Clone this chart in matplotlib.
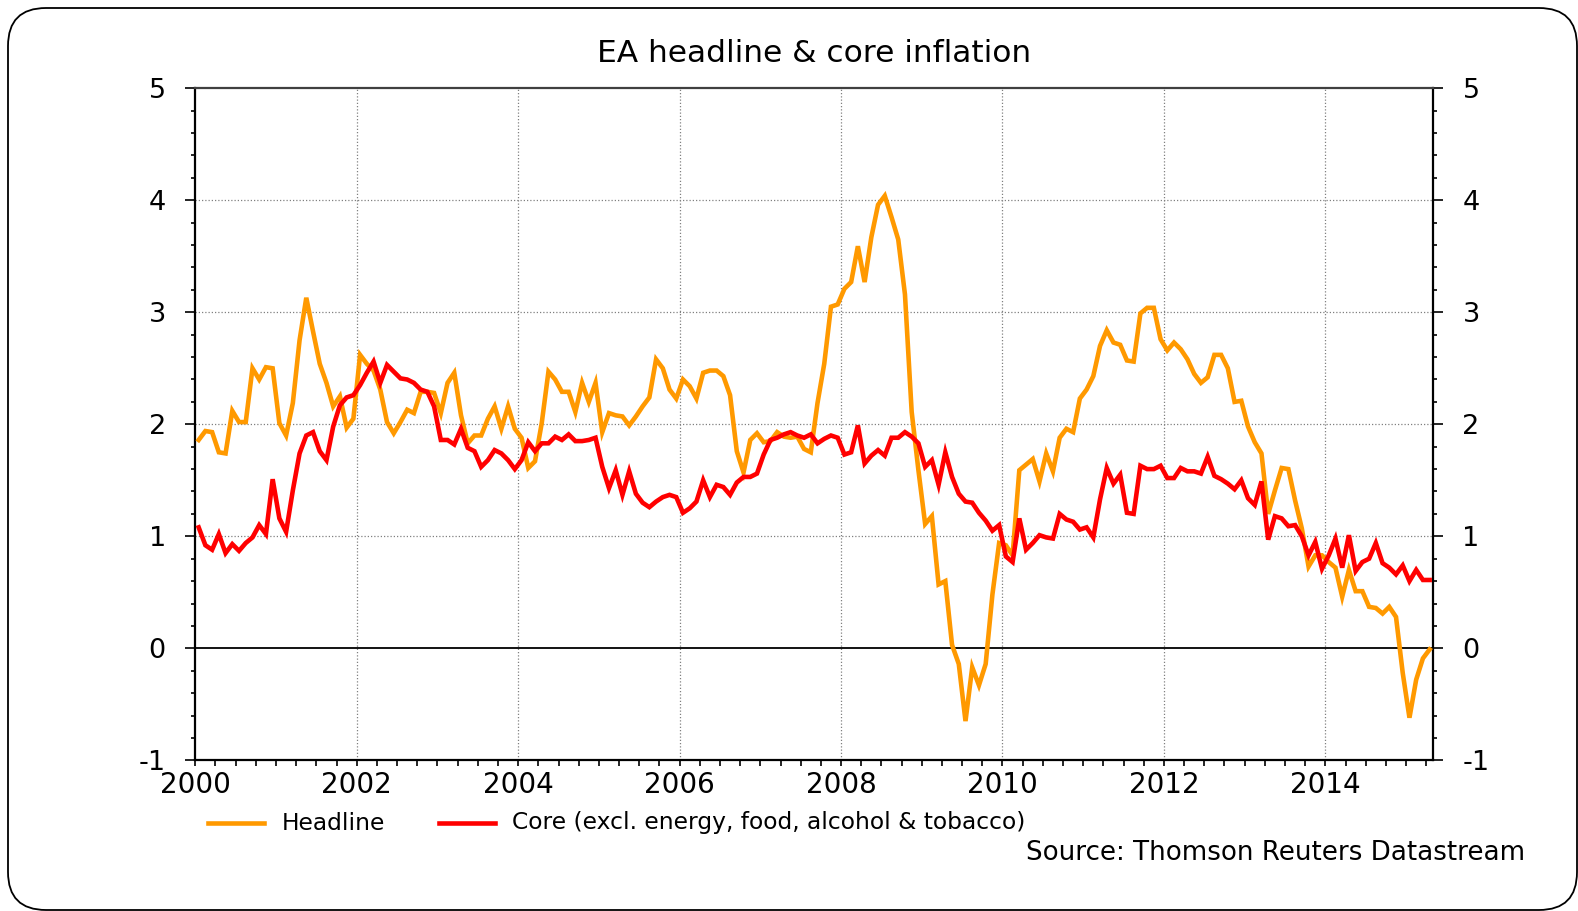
import numpy as np
import matplotlib
matplotlib.use("Agg")
import matplotlib.pyplot as plt
from matplotlib.patches import FancyBboxPatch
from matplotlib.lines import Line2D
from matplotlib.ticker import FixedLocator, MultipleLocator
from matplotlib.transforms import IdentityTransform

# ---------------- data ----------------
start_year = 2000
title = "EA headline & core inflation"
series_labels = ["Headline", "Core (excl. energy, food, alcohol & tobacco)"]
source_text = "Source: Thomson Reuters Datastream"
x_tick_years = [2000, 2002, 2004, 2006, 2008, 2010, 2012, 2014]
y_ticks = [-1, 0, 1, 2, 3, 4, 5]

headline = [
    1.86, 1.94, 1.93, 1.75, 1.74, 2.12, 2.02, 2.02, 2.50, 2.40, 2.51, 2.50,   # 2000
    2.01, 1.90, 2.19, 2.75, 3.13, 2.83, 2.54, 2.37, 2.16, 2.25, 1.97, 2.05,   # 2001
    2.62, 2.54, 2.48, 2.31, 2.02, 1.92, 2.02, 2.13, 2.10, 2.29, 2.29, 2.28,   # 2002
    2.10, 2.37, 2.46, 2.08, 1.83, 1.90, 1.90, 2.05, 2.16, 1.96, 2.16, 1.96,   # 2003
    1.88, 1.61, 1.67, 2.01, 2.47, 2.40, 2.29, 2.29, 2.11, 2.37, 2.20, 2.37,   # 2004
    1.93, 2.10, 2.08, 2.07, 1.99, 2.07, 2.16, 2.24, 2.58, 2.50, 2.31, 2.23,   # 2005
    2.40, 2.34, 2.23, 2.46, 2.48, 2.48, 2.43, 2.26, 1.76, 1.57, 1.86, 1.92,   # 2006
    1.84, 1.85, 1.93, 1.89, 1.88, 1.89, 1.78, 1.75, 2.19, 2.54, 3.05, 3.07,   # 2007
    3.21, 3.27, 3.59, 3.27, 3.67, 3.96, 4.04, 3.85, 3.65, 3.16, 2.11, 1.59,   # 2008
    1.11, 1.18, 0.57, 0.60, 0.03, -0.14, -0.65, -0.17, -0.33, -0.14, 0.48, 0.94,  # 2009
    0.92, 0.83, 1.59, 1.64, 1.69, 1.49, 1.74, 1.58, 1.88, 1.96, 1.93, 2.23,   # 2010
    2.31, 2.43, 2.70, 2.84, 2.73, 2.71, 2.57, 2.56, 2.99, 3.04, 3.04, 2.76,   # 2011
    2.66, 2.73, 2.67, 2.58, 2.45, 2.37, 2.42, 2.62, 2.62, 2.50, 2.20, 2.21,   # 2012
    1.98, 1.84, 1.74, 1.20, 1.41, 1.61, 1.60, 1.32, 1.07, 0.73, 0.83, 0.83,   # 2013
    0.77, 0.72, 0.46, 0.70, 0.51, 0.51, 0.37, 0.36, 0.31, 0.37, 0.28, -0.22,  # 2014
    -0.62, -0.28, -0.09, -0.01,                                               # 2015
]

core = [
    1.08, 0.92, 0.88, 1.02, 0.85, 0.93, 0.87, 0.94, 0.99, 1.10, 1.02, 1.51,   # 2000
    1.16, 1.04, 1.41, 1.74, 1.90, 1.93, 1.76, 1.68, 1.98, 2.17, 2.24, 2.26,   # 2001
    2.35, 2.46, 2.56, 2.37, 2.53, 2.47, 2.41, 2.40, 2.37, 2.31, 2.29, 2.16,   # 2002
    1.86, 1.86, 1.82, 1.96, 1.79, 1.76, 1.62, 1.68, 1.77, 1.74, 1.68, 1.60,   # 2003
    1.68, 1.84, 1.76, 1.83, 1.83, 1.89, 1.86, 1.91, 1.85, 1.85, 1.86, 1.88,   # 2004
    1.62, 1.43, 1.59, 1.37, 1.58, 1.38, 1.30, 1.26, 1.31, 1.35, 1.37, 1.35,   # 2005
    1.21, 1.25, 1.31, 1.50, 1.35, 1.46, 1.44, 1.37, 1.48, 1.53, 1.53, 1.56,   # 2006
    1.73, 1.86, 1.88, 1.91, 1.93, 1.90, 1.88, 1.91, 1.83, 1.87, 1.90, 1.88,   # 2007
    1.73, 1.75, 1.99, 1.65, 1.72, 1.77, 1.72, 1.88, 1.88, 1.93, 1.89, 1.83,   # 2008
    1.62, 1.68, 1.46, 1.75, 1.53, 1.38, 1.31, 1.30, 1.21, 1.14, 1.05, 1.10,   # 2009
    0.82, 0.77, 1.16, 0.88, 0.94, 1.01, 0.99, 0.98, 1.20, 1.15, 1.13, 1.06,   # 2010
    1.08, 0.99, 1.33, 1.61, 1.47, 1.55, 1.21, 1.20, 1.63, 1.60, 1.60, 1.63,   # 2011
    1.52, 1.52, 1.61, 1.58, 1.58, 1.56, 1.71, 1.54, 1.51, 1.47, 1.42, 1.50,   # 2012
    1.34, 1.28, 1.49, 0.97, 1.18, 1.16, 1.09, 1.10, 1.00, 0.83, 0.95, 0.71,   # 2013
    0.83, 0.98, 0.72, 1.01, 0.69, 0.77, 0.80, 0.94, 0.76, 0.72, 0.66, 0.74,   # 2014
    0.60, 0.70, 0.61, 0.61,                                                   # 2015
]

# ---------------- figure ----------------
W, H = 1578, 911
DPI = 100
plt.rcParams["font.family"] = ["DejaVu Sans"]
fig = plt.figure(figsize=(W / DPI, H / DPI), dpi=DPI)
fig.patch.set_facecolor("white")

# rounded outer frame (pixel coordinates)
frame = FancyBboxPatch((8, 1), 1569, 902,
                       boxstyle="round,pad=0,rounding_size=38",
                       transform=IdentityTransform(),
                       facecolor="none", edgecolor="black", linewidth=1.3)
fig.patches.append(frame)

ax_l, ax_r, ax_t, ax_b = 195.3, 1433.0, 88.3, 760.3
ax = fig.add_axes([ax_l / W, 1 - ax_b / H, (ax_r - ax_l) / W, (ax_b - ax_t) / H])

months = np.arange(len(headline))
x = start_year + (months + 0.5) / 12.0

orange = "#FF9900"
red = "#FF0000"
ax.plot(x, headline, color=orange, lw=3.3, solid_joinstyle="miter", zorder=3)
ax.plot(x, core, color=red, lw=3.3, solid_joinstyle="miter", zorder=4)

ax.set_xlim(start_year, start_year + len(headline) / 12.0)
ax.set_ylim(min(y_ticks), max(y_ticks))

# grid
for yv in y_ticks[1:-1]:
    if yv == 0:
        ax.axhline(yv, color="black", lw=1.3, zorder=2)
    else:
        ax.axhline(yv, color="#808080", lw=0.9, ls=(0, (1, 1.6)), zorder=1)
for xv in x_tick_years[1:]:
    ax.axvline(xv, color="#808080", lw=0.9, ls=(0, (1, 1.6)), zorder=1)

# ticks
ax.xaxis.set_major_locator(FixedLocator(x_tick_years))
ax.xaxis.set_minor_locator(MultipleLocator(0.25))
ax.set_xticklabels([str(v) for v in x_tick_years])
ax.yaxis.set_major_locator(FixedLocator(y_ticks))
ax.yaxis.set_minor_locator(MultipleLocator(0.2))
ax.set_yticklabels([str(v) for v in y_ticks])

ax.tick_params(axis="x", which="both", direction="out", length=4.5, width=1.2,
               pad=3.5, labelsize=20, color="black")
ax.tick_params(axis="y", which="major", direction="out", length=7.2, width=1.2,
               pad=14, labelsize=19.5, left=True, right=True,
               labelleft=True, labelright=True)
ax.tick_params(axis="y", which="minor", direction="out", length=3.2, width=1.2,
               left=True, right=True)

for side in ["left", "right", "bottom"]:
    ax.spines[side].set_color("black")
    ax.spines[side].set_linewidth(1.6)
ax.spines["top"].set_color("#404040")
ax.spines["top"].set_linewidth(1.6)

# title
fig.text(((ax_l + ax_r) / 2) / W, 1 - 54 / H, title, ha="center", va="center",
         fontsize=22.5)

# legend (manual)
leg_y = 1 - 823 / H
fig.add_artist(Line2D([208 / W, 264 / W], [leg_y, leg_y], color=orange, lw=3.3))
fig.text(282 / W, leg_y, series_labels[0], ha="left", va="center", fontsize=16.8)
fig.add_artist(Line2D([439 / W, 495 / W], [leg_y, leg_y], color=red, lw=3.3))
fig.text(512 / W, leg_y, series_labels[1], ha="left", va="center", fontsize=16.8)

fig.text(1525 / W, 1 - 853 / H, source_text, ha="right", va="center", fontsize=18.8)

fig.savefig("out.png", dpi=DPI, facecolor="white")
